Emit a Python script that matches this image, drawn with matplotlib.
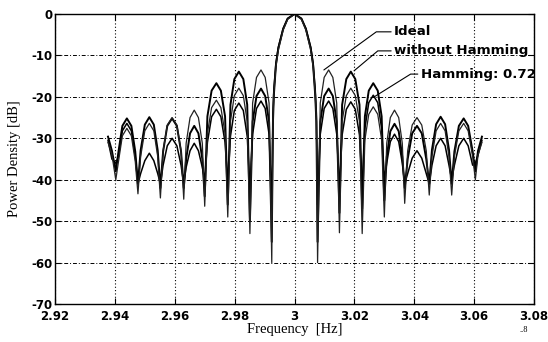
import matplotlib
matplotlib.use("Agg")
import matplotlib.pyplot as plt

# frequency points (shared by the three curves)
# each row: null, then the lobe shape up to the next null
freq = [
    2.9377, 2.9390,
    2.9403, 2.9412, 2.9425, 2.9440, 2.9455, 2.9468,
    2.9477, 2.9486, 2.9500, 2.9515, 2.9530, 2.9543,
    2.9552, 2.9561, 2.9575, 2.9591, 2.9607, 2.9621,
    2.9630, 2.9638, 2.9651, 2.9665, 2.9679, 2.9692,
    2.9700, 2.9709, 2.9723, 2.9739, 2.9754, 2.9768,
    2.9777, 2.9786, 2.9799, 2.9814, 2.9829, 2.9842,
    2.9851, 2.9860, 2.9873, 2.9888, 2.9902, 2.9915,
    2.9924, 2.9928, 2.9931, 2.9938, 2.9946, 2.9962, 2.9977,
    3.0000, 3.0023, 3.0038, 3.0054, 3.0062, 3.0069, 3.0073,
    3.0077, 3.0086, 3.0099, 3.0114, 3.0128, 3.0141,
    3.0150, 3.0159, 3.0173, 3.0188, 3.0203, 3.0217,
    3.0226, 3.0235, 3.0248, 3.0263, 3.0278, 3.0291,
    3.0300, 3.0308, 3.0320, 3.0334, 3.0348, 3.0360,
    3.0368, 3.0378, 3.0393, 3.0409, 3.0425, 3.0440,
    3.0450, 3.0459, 3.0473, 3.0488, 3.0503, 3.0516,
    3.0525, 3.0534, 3.0549, 3.0565, 3.0580, 3.0595,
    3.0604, 3.0613, 3.0626,
]

ideal_db = [
    -31.0, -34.0,
    -40.0, -35.6, -29.4, -27.6, -29.4, -35.6,
    -43.4, -34.4, -28.2, -26.4, -28.2, -34.4,
    -44.4, -33.0, -26.8, -25.0, -26.8, -33.0,
    -44.7, -31.2, -25.0, -23.2, -25.0, -31.2,
    -46.4, -28.8, -22.6, -20.8, -22.6, -28.8,
    -49.0, -25.9, -19.7, -17.9, -19.7, -25.9,
    -53.0, -21.5, -15.3, -13.5, -15.3, -21.5,
    -60.0, -25.6, -19.2, -12.6, -8.7, -3.9, -1.3,
    0.0, -1.3, -3.9, -8.7, -12.6, -19.2, -25.6,
    -60.0, -21.5, -15.3, -13.5, -15.3, -21.5,
    -52.8, -25.9, -19.7, -17.9, -19.7, -25.9,
    -53.0, -30.4, -24.2, -22.4, -24.2, -30.4,
    -49.0, -31.2, -25.0, -23.2, -25.0, -31.2,
    -45.7, -33.0, -26.8, -25.0, -26.8, -33.0,
    -43.7, -34.4, -28.2, -26.4, -28.2, -34.4,
    -43.7, -34.4, -28.2, -26.4, -28.2, -34.4,
    -40.0, -34.0, -31.0,
]

no_hamming_db = [
    -29.6, -33.0,
    -38.0, -33.2, -27.0, -25.2, -27.0, -33.2,
    -41.0, -32.9, -26.7, -24.9, -26.7, -32.9,
    -42.0, -33.2, -27.0, -25.2, -27.0, -33.2,
    -42.0, -35.0, -28.8, -27.0, -28.8, -35.0,
    -44.0, -24.7, -18.5, -16.7, -18.5, -24.7,
    -46.0, -21.9, -15.7, -13.9, -15.7, -21.9,
    -50.0, -26.0, -19.8, -18.0, -19.8, -26.0,
    -55.0, -26.0, -19.5, -12.2, -8.2, -3.6, -1.1,
    0.0, -1.1, -3.6, -8.2, -12.2, -19.5, -26.0,
    -55.0, -26.0, -19.8, -18.0, -19.8, -26.0,
    -48.0, -21.9, -15.7, -13.9, -15.7, -21.9,
    -47.0, -24.7, -18.5, -16.7, -18.5, -24.7,
    -45.0, -34.5, -28.3, -26.5, -28.3, -34.5,
    -42.0, -35.0, -28.8, -27.0, -28.8, -35.0,
    -41.0, -32.8, -26.6, -24.8, -26.6, -32.8,
    -41.0, -33.2, -27.0, -25.2, -27.0, -33.2,
    -38.0, -33.0, -29.6,
]

hamming_db = [
    -30.5, -35.0,
    -36.0, -34.4, -28.2, -26.4, -28.2, -34.4,
    -41.0, -38.5, -35.4, -33.6, -35.4, -38.5,
    -41.0, -36.5, -31.8, -30.0, -31.8, -36.5,
    -41.0, -37.0, -33.0, -31.2, -33.0, -37.0,
    -40.0, -31.0, -24.8, -23.0, -24.8, -31.0,
    -41.0, -29.5, -23.3, -21.5, -23.3, -29.5,
    -42.0, -29.0, -22.8, -21.0, -22.8, -29.0,
    -46.0, -24.0, -18.0, -11.8, -8.0, -3.5, -1.1,
    0.0, -1.1, -3.5, -8.0, -11.8, -18.0, -24.0,
    -46.0, -29.0, -22.8, -21.0, -22.8, -29.0,
    -42.0, -29.2, -23.0, -21.2, -23.0, -29.2,
    -42.0, -27.6, -21.4, -19.6, -21.4, -27.6,
    -40.0, -36.0, -30.8, -29.0, -30.8, -36.0,
    -41.0, -38.5, -34.8, -33.0, -34.8, -38.5,
    -41.0, -36.5, -31.8, -30.0, -31.8, -36.5,
    -40.0, -36.5, -31.8, -30.0, -31.8, -36.5,
    -36.0, -34.0, -30.5,
]

x_ticks = [2.92, 2.94, 2.96, 2.98, 3.00, 3.02, 3.04, 3.06, 3.08]
x_tick_labels = ["2.92", "2.94", "2.96", "2.98", "3", "3.02", "3.04", "3.06", "3.08"]
y_ticks = [0, -10, -20, -30, -40, -50, -60, -70]
y_tick_labels = ["0", "-10", "-20", "-30", "-40", "-50", "-60", "-70"]

fig = plt.figure(figsize=(5.48, 3.42), dpi=100)
ax = fig.add_axes([0.1004, 0.1111, 0.8741, 0.8479])

ax.plot(freq, hamming_db, color="black", lw=1.1)
ax.plot(freq, no_hamming_db, color="black", lw=1.4)
ax.plot(freq, ideal_db, color="#222222", lw=0.9)

ax.set_xlim(2.92, 3.08)
ax.set_ylim(-70, 0)
ax.set_xticks(x_ticks)
ax.set_xticklabels(x_tick_labels)
ax.set_yticks(y_ticks)
ax.set_yticklabels(y_tick_labels)
ax.tick_params(direction="in", length=4, width=0.8, top=True, right=True,
               labelsize=8.5, colors="black")
ax.tick_params(axis="x", pad=4.5)
ax.tick_params(axis="y", pad=2)
for lab in ax.get_xticklabels() + ax.get_yticklabels():
    lab.set_fontweight("bold")

# MATLAB style grid: dotted verticals, dash-dot horizontals
ax.xaxis.grid(True, color="black", ls=(0, (1, 2)), lw=0.8)
ax.yaxis.grid(True, color="black", ls=(0, (4, 2, 1, 2)), lw=0.7)
for sp in ax.spines.values():
    sp.set_linewidth(1.0)

ax.set_xlabel("Frequency  [Hz]", family="Liberation Serif", fontsize=10.5, labelpad=0)
ax.set_ylabel("Power Density [dB]", family="Liberation Serif", fontsize=10.5, labelpad=7)

arrow = dict(arrowstyle="-", color="black", lw=0.8, shrinkA=0, shrinkB=0,
             relpos=(0, 0.5))
ax.annotate("Ideal", xy=(3.0098, -13.5), xytext=(3.0332, -4.3),
            fontsize=9.6, fontweight="bold", va="center", ha="left",
            arrowprops=dict(arrow, connectionstyle="angle,angleA=0,angleB=36,rad=0"))
ax.annotate("without Hamming", xy=(3.0199, -13.7), xytext=(3.0332, -8.9),
            fontsize=9.6, fontweight="bold", va="center", ha="left",
            arrowprops=dict(arrow, connectionstyle="angle,angleA=0,angleB=40,rad=0"))
ax.annotate("Hamming: 0.72", xy=(3.0266, -20.0), xytext=(3.0421, -14.5),
            fontsize=9.6, fontweight="bold", va="center", ha="left",
            arrowprops=dict(arrow, connectionstyle="angle,angleA=0,angleB=32,rad=0"))

fig.text(0.947, 0.028, "..8", family="Liberation Serif", fontsize=6)

fig.savefig("out.png", dpi=100)
